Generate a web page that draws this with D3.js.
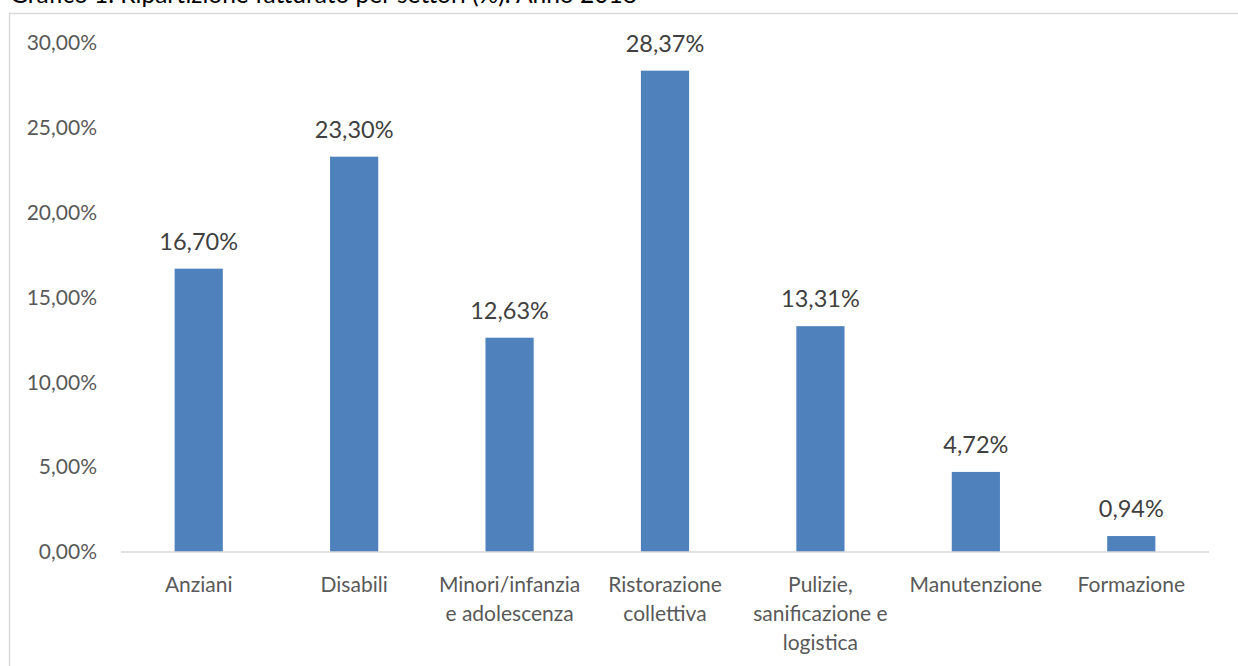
<!DOCTYPE html>
<html><head><meta charset="utf-8">
<script src="https://cdn.jsdelivr.net/npm/d3@7"></script>
<style>
html,body{margin:0;padding:0;background:#fff;}
svg{display:block;font-family:Lato, "Open Sans", sans-serif;}
</style></head>
<body>
<svg id="chart" width="1238" height="666"></svg>
<script>
const title = "Grafico 1. Ripartizione fatturato per settori (%). Anno 2018";
const categories = ["Anziani","Disabili","Minori/infanzia e adolescenza","Ristorazione collettiva","Pulizie, sanificazione e logistica","Manutenzione","Formazione"];
const categoryLines = [["Anziani"],["Disabili"],["Minori/infanzia","e adolescenza"],["Ristorazione","collettiva"],["Pulizie,","sanificazione e","logistica"],["Manutenzione"],["Formazione"]];
const values = [16.70, 23.30, 12.63, 28.37, 13.31, 4.72, 0.94];
const yTicks = [0,5,10,15,20,25,30];

const svg = d3.select("#chart");
const fmt = v => v.toFixed(2).replace(".", ",") + "%";

// title (partially clipped at top, as in the reference)
svg.append("text").attr("x", 10).attr("y", 3).attr("font-size", 24.5).attr("fill", "#000").text(title);

// chart frame
svg.append("rect").attr("x", 9.5).attr("y", 13.5).attr("width", 1240).attr("height", 670)
  .attr("fill", "#fff").attr("stroke", "#d9d9d9").attr("stroke-width", 1.5);

const x = d3.scaleBand().domain(categories).range([121, 1209]).paddingInner(0.69).paddingOuter(0.345);
const y = d3.scaleLinear().domain([0, 30]).range([552, 43]);

// y axis labels
const yAxis = svg.append("g").attr("transform", "translate(97,0)")
  .call(d3.axisLeft(y).tickValues(yTicks).tickSize(0).tickPadding(0).tickFormat(fmt));
yAxis.select(".domain").remove();
yAxis.selectAll("text").attr("font-size", 21).attr("fill", "#595959").attr("font-family", "Lato, sans-serif");

// bars
svg.append("g").selectAll("rect").data(values).join("rect")
  .attr("x", (d, i) => x(categories[i]))
  .attr("width", x.bandwidth())
  .attr("y", d => y(d))
  .attr("height", d => y(0) - y(d))
  .attr("fill", "#4f81bd");

// baseline
const xAxis = svg.append("g").attr("transform", `translate(0,${y(0)})`)
  .call(d3.axisBottom(x).tickSize(0).tickFormat(""));
xAxis.select(".domain").attr("stroke", "#d9d9d9").attr("stroke-width", 1.5).attr("d", "M121,0H1209");

// category labels
const xs = d3.scaleBand().domain(categories).range([121, 1209]);
categories.forEach((c, i) => {
  const t = svg.append("text").attr("text-anchor", "middle").attr("font-size", 21).attr("fill", "#595959");
  categoryLines[i].forEach((ln, j) => {
    t.append("tspan").attr("x", xs(c) + xs.bandwidth() / 2).attr("y", 592 + j * 29).text(ln);
  });
});

// data labels
svg.append("g").selectAll("text").data(values).join("text")
  .attr("x", (d, i) => x(categories[i]) + x.bandwidth() / 2)
  .attr("y", d => y(d) - 19)
  .attr("text-anchor", "middle").attr("font-size", 23.5).attr("fill", "#404040")
  .text(fmt);
</script>
</body></html>
